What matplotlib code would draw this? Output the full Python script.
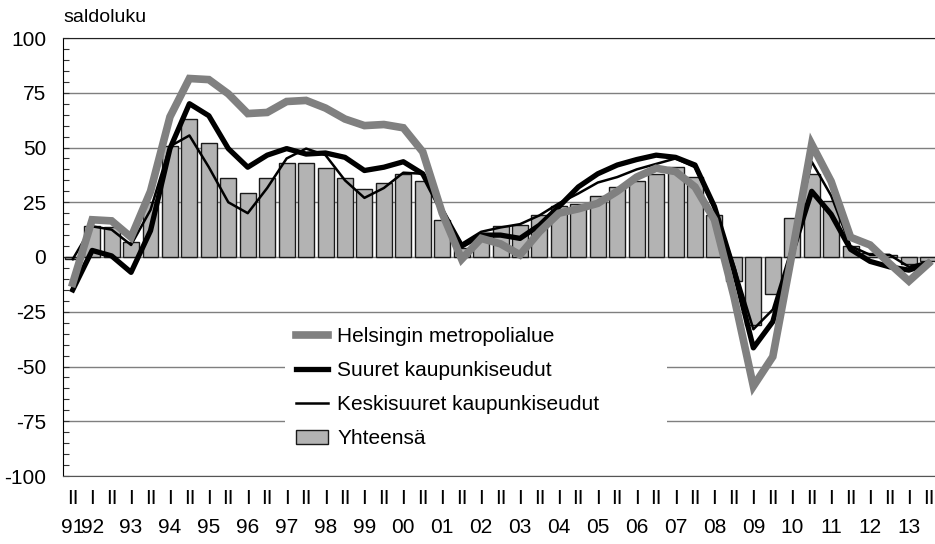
import matplotlib
matplotlib.use("Agg")
import matplotlib.pyplot as plt
from matplotlib.lines import Line2D
from matplotlib.patches import Patch
import numpy as np

plt.rcParams['font.family'] = ['Liberation Sans', 'DejaVu Sans']
plt.rcParams['axes.unicode_minus'] = False

# Half-year periods: 1991 II ... 2013 II
half_labels = ['II'] + ['I', 'II'] * 22
year_labels = ['91', '92', '93', '94', '95', '96', '97', '98', '99', '00', '01', '02',
               '03', '04', '05', '06', '07', '08', '09', '10', '11', '12', '13']

helsinki = [-12, 17, 16.5, 9, 30, 64, 81.5, 81, 74.5, 65.5, 66, 71, 71.5, 68, 63,
            60, 60.5, 59, 48, 20, -1, 8.5, 6, 1, 11.5, 20, 22, 24.5, 30, 36.5,
            40.5, 39, 32, 17, -18, -59, -45.5, 2, 51.5, 34.5, 9, 5.5, -3, -11, -3]
suuret = [-15, 3, 0.5, -7, 12, 49.5, 70, 64.5, 49.5, 41, 46.5, 49.5, 47, 47.5, 45.5,
          39.5, 41, 43.5, 38, 21, 5, 10, 10, 8.5, 14.5, 23, 32, 38, 42, 44.5,
          46.5, 45.5, 42, 23, -6, -41.5, -29.5, 2, 30, 19.5, 3.5, -2, -4.5, -6, -3]
keskisuuret = [-1, 14, 12.5, 5.5, 21.5, 50.5, 55.5, 41, 25, 20, 31.5, 45, 49.5, 46.5, 35,
               27, 31.5, 38.5, 38, 20, 6, 11.5, 13.5, 15, 19, 24.5, 29, 34, 36.5, 40,
               42.5, 45, 41, 22, -4, -33, -24, 5, 43.5, 28, 5, 1, 1, -4.5, -2]
yhteensa = [-1, 14, 13.5, 7, 25, 50.5, 63, 52, 36, 29, 36, 43, 43, 40.5, 36,
            31, 34, 38, 34.5, 17, 4, 9.5, 14, 14.5, 19, 23.5, 24, 28, 32, 34.5,
            38, 41, 36.5, 19, -11, -31, -17, 18, 38, 25.5, 5, 2, 1, -3, -2]

series_names = ['Helsingin metropolialue', 'Suuret kaupunkiseudut',
                'Keskisuuret kaupunkiseudut', 'Yhteensä']

W, H = 935, 544
fig = plt.figure(figsize=(W / 100, H / 100), dpi=100)
ax = fig.add_axes([63 / W, (H - 476) / H, (W - 63) / W, (476 - 38) / H])

x = np.arange(len(yhteensa))
FS = 15

ax.bar(x, yhteensa, width=0.82, color='#b3b3b3', edgecolor='#1a1a1a',
       linewidth=1.0, zorder=2)
ax.plot(x, keskisuuret, color='black', lw=1.8, zorder=3, solid_joinstyle='round')
ax.plot(x, suuret, color='black', lw=3.8, zorder=4, solid_joinstyle='round')
ax.plot(x, helsinki, color='#808080', lw=5.5, zorder=5, solid_joinstyle='miter')

ax.set_xlim(-0.5, 44.34)
ax.set_ylim(-100, 100)
ax.set_yticks(np.arange(-100, 101, 25))
ax.set_yticks(np.arange(-100, 101, 5), minor=True)
ax.yaxis.grid(True, which='major', color='#7f7f7f', lw=1.0, zorder=0)
ax.set_axisbelow(True)
ax.tick_params(axis='y', which='both', direction='in', length=4, width=0.8,
               labelsize=FS, pad=12, color='#333333')

ax.set_xticks(x)
ax.set_xticklabels(half_labels, fontsize=FS)
ax.tick_params(axis='x', length=0, pad=9)

# year labels under the 'I' half (first one under 1991 II)
year_pos = [0] + list(range(1, 45, 2))
for pos, lab in zip(year_pos, year_labels):
    ax.annotate(lab, xy=(pos, 0), xycoords=('data', 'axes fraction'),
                xytext=(0, -30), textcoords='offset points',
                ha='center', va='top', fontsize=FS)

ax.spines['right'].set_visible(False)
ax.spines['left'].set_color('black')
ax.spines['top'].set_color('#222222')
ax.spines['bottom'].set_color('#555555')

fig.text(63 / W, 1 - 18 / H, 'saldoluku', fontsize=FS - 1, ha='left', va='center')

handles = [Line2D([], [], color='#808080', lw=5.5),
           Line2D([], [], color='black', lw=3.8),
           Line2D([], [], color='black', lw=1.8),
           Patch(facecolor='#b3b3b3', edgecolor='#1a1a1a', lw=1.0)]
top_px, bot_px = 316, 458
leg = ax.legend(handles, series_names, loc='upper left',
                bbox_to_anchor=(285 / W, 1 - bot_px / H, (667 - 285) / W,
                                (bot_px - top_px) / H),
                bbox_transform=fig.transFigure, mode='expand',
                fontsize=FS, frameon=True, facecolor='white', edgecolor='none',
                framealpha=1.0, fancybox=False, borderpad=0.55, borderaxespad=0,
                handlelength=1.5, handletextpad=0.45, labelspacing=0.72)
leg.set_zorder(6)

fig.savefig('out.png', dpi=100)
